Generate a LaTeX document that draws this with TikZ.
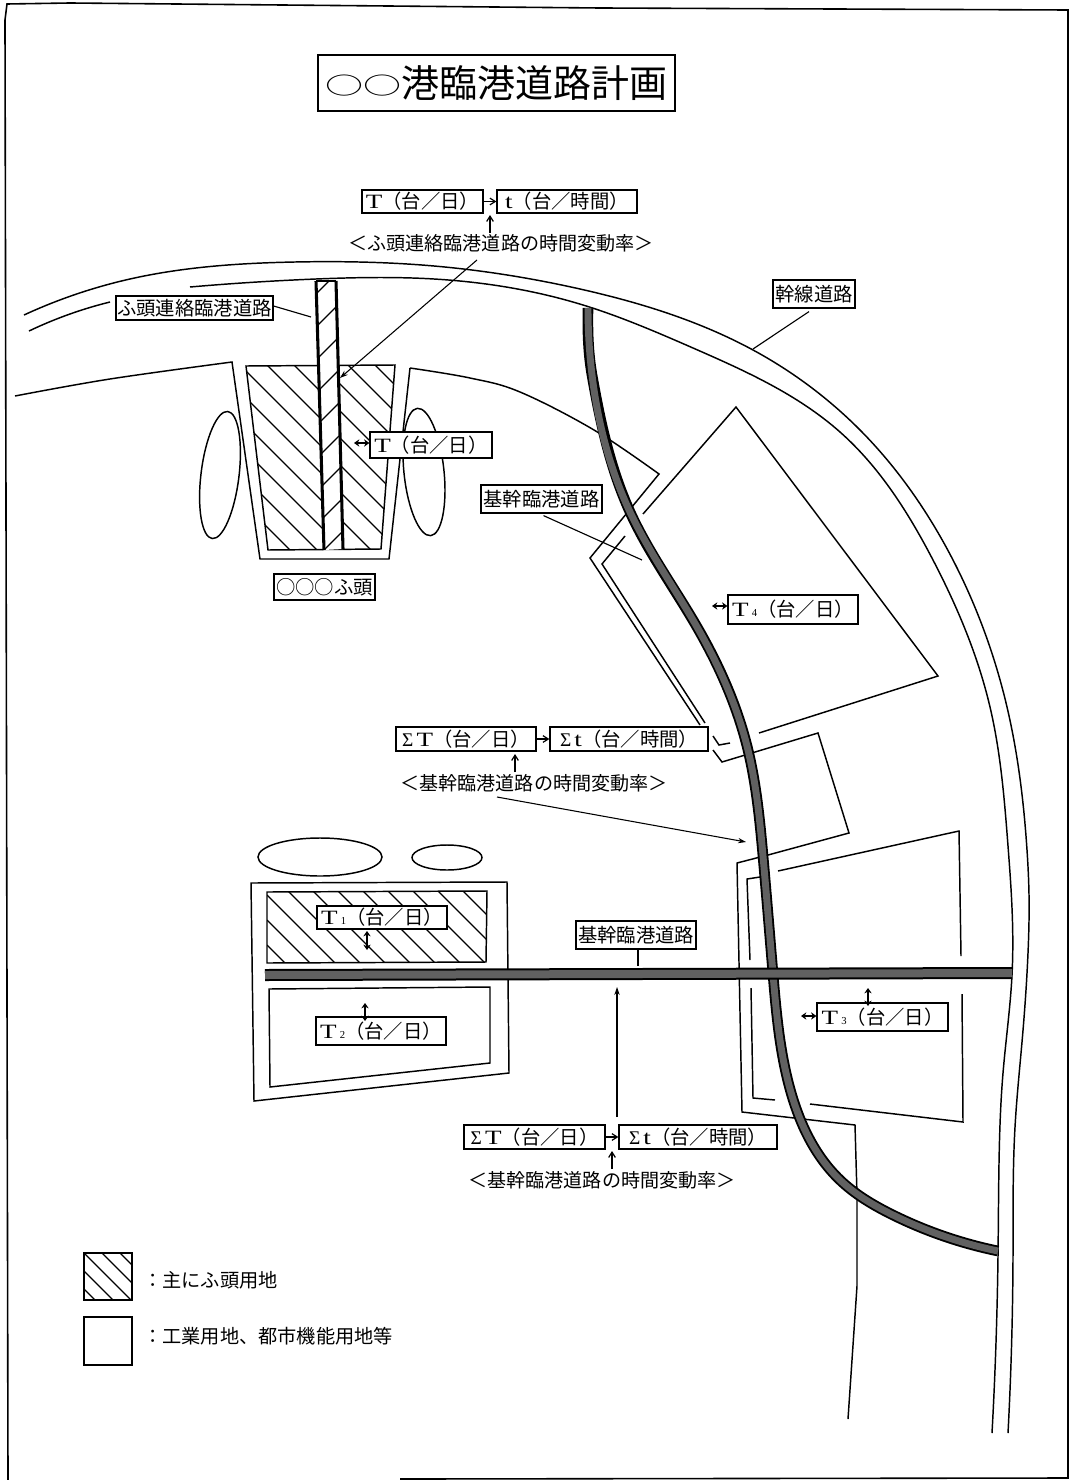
\documentclass[tikz,border=0pt]{standalone}
\usepackage{fontspec}
\setmainfont{Noto Sans CJK JP}
\newfontfamily\lat{Liberation Serif}
\usetikzlibrary{arrows.meta,hobby}
\tikzset{
  ln/.style={line width=1.1pt,line join=miter},
  thinln/.style={line width=0.85pt},
  lab/.style={draw=black,line width=0.9pt,fill=white,inner sep=0pt,font=\fontsize{14.5}{15}\selectfont,text=black},
  captxt/.style={inner sep=0pt,font=\fontsize{14.3}{16}\selectfont},
  arr/.style={line width=0.8pt,-{Stealth[length=6pt,width=4pt]}},
  arrs/.style={line width=0.9pt,-{Straight Barb[length=4pt,width=5pt]}},
  darr/.style={line width=1.3pt,{Stealth[length=4pt,width=5.5pt]}-{Stealth[length=4pt,width=5.5pt]}},
  roadedge/.style={line width=8pt,black,line cap=butt,use Hobby shortcut},
  roadcore/.style={line width=5.2pt,black!62,line cap=butt,use Hobby shortcut},
}
\newcommand{\bx}[7][]{\node[lab,#1,minimum width={(#5-#3)*0.75pt},minimum height={(#6-#4)*0.75pt}] (#2) at ({(#3+#5)/2},{(#4+#6)/2}) {#7};}
\newcommand{\tee}{\scalebox{1.4}[1.05]{\lat T}}
\newcommand{\ess}{\scalebox{1.4}[1.05]{\lat t}}
\newcommand{\sgm}{{\lat Σ}\,}
\newcommand{\dg}[1]{\,{\fontsize{8}{8}\selectfont\lat #1}}
\newcommand{\ovalch}{\raisebox{2.5pt}{\scalebox{1}[0.62]{○}}}
\newcommand{\roadpath}{(588,308) .. (592,375) .. (630,512) .. (697,627) .. (747,746) .. (763,856) .. (773,974) .. (790,1089) .. (840,1180) .. (893,1215) .. (998,1251)}
\begin{document}
\begin{tikzpicture}[x=0.75pt,y=-0.75pt]
\useasboundingbox (0,0) rectangle (1073,1480);
% page frame
\draw[line width=1.2pt] (8,1480) -- (5,20) -- (7,4) -- (70,3) -- (600,8) -- (1068,10) -- (1068,1478) -- (400,1479);
% trunk road
\draw[ln,use Hobby shortcut] (24,315) .. (130,279) .. (295,262) .. (434,266) .. (580,289) .. (753,350) .. (860,430) .. (953,560) .. (1007,707) .. (1027,850) .. (1029,895) .. (1028,953) .. (1022,1042) .. (1015,1127) .. (1013,1256) .. (1008,1433);
\draw[ln,use Hobby shortcut] (190,287) .. (316,279) .. (434,279) .. (583,305) .. (693,348) .. (840,432) .. (933,560) .. (990,707) .. (1008,846) .. (1012,908) .. (1012,975) .. (1003,1073) .. (999,1163) .. (998,1256) .. (992,1433);
\draw[ln,use Hobby shortcut] (29,331) .. (70,314) .. (110,302);
% coast left of pier and pier outline
\draw[ln] plot[smooth,tension=0.6] coordinates {(15,396) (110,379) (232,362)} -- (260,559) -- (389,559) -- (410,368);
\draw[ln] plot[smooth,tension=0.6] coordinates {(410,368) (470,378) (520,392) (594,430) (659,474)} -- (590,558) -- (700,725);
% ellipses beside pier
\draw[ln] (220,475) ellipse[x radius=19,y radius=64,rotate=-7];
\draw[ln] (424,472) ellipse[x radius=20,y radius=64,rotate=6];
% pier hatching
\begin{scope}
\clip (246,366) -- (395,365) -- (381,549) -- (268,550) -- cycle;
\foreach \c in {-10,17,...,300} \draw[thinln] (200,200+\c) -- (500,500+\c);
\end{scope}
\draw[ln] (268,550) -- (246,366) -- (395,365) -- (381,549) -- cycle;
% connecting road strip
\fill[white] (316,281) -- (336,281) -- (343,549) -- (324,550) -- cycle;
\begin{scope}
\clip (316,281) -- (336,281) -- (343,549) -- (324,550) -- cycle;
\foreach \c in {610,643,...,920} \draw[thinln] (250,\c-250) -- (400,\c-400);
\end{scope}
\draw[line width=2.3pt] (316,281) -- (324,550) (336,281) -- (343,549);
\draw[line width=1.2pt] (316,281) -- (336,281);
% upper-right zone
\draw[ln] (643,514) -- (736,407) -- (938,676) -- (759,733);
\draw[ln] (625,536) -- (602,564) -- (705,723);
\draw[ln] (713,736) -- (719,745) -- (730,743);
\draw[ln] (713,750) -- (722,762) -- (818,733) -- (849,833) -- (768,855) -- (737,863) -- (742,1112) -- (855,1125) -- (857,1195) -- (857,1286) -- (848,1419);
% lower-right zone
\draw[ln] (778,871) -- (959,831) -- (961,956);
\draw[ln] (962,994) -- (963,1122) -- (810,1104);
\draw[ln] (760,877) -- (747,879) -- (750,960);
\draw[ln] (751,988) -- (753,1098) -- (775,1100);
% left block
\draw[ln] (251,883) -- (507,882) -- (509,1073) -- (254,1101) -- cycle;
\begin{scope}
\clip (267,892) -- (487,891) -- (486,962) -- (267,963) -- cycle;
\foreach \c in {-30,-5,...,660} \draw[thinln] (267,\c+892-267) -- (487,\c+892-267+220);
\end{scope}
\draw[ln] (267,892) -- (487,891) -- (486,962) -- (267,963) -- cycle;
\draw[ln] (269,989) -- (490,987) -- (490,1063) -- (270,1087) -- cycle;
\draw[ln] (320,857) ellipse[x radius=62,y radius=19];
\draw[ln] (447,857.5) ellipse[x radius=35,y radius=12.5];
% main harbour roads
\draw[roadedge] (588,308) .. (592,375) .. (630,512) .. (697,627) .. (747,746) .. (763,856) .. (773,974) .. (790,1089) .. (840,1180) .. (893,1215) .. (998,1251);
\draw[roadcore] (588,308) .. (592,375) .. (630,512) .. (697,627) .. (747,746) .. (763,856) .. (773,974) .. (790,1089) .. (840,1180) .. (893,1215) .. (998,1251);
\draw[line width=9pt,black] (265,975) -- (1012,973);
\draw[line width=6pt,black!62] (265,975) -- (1012,973);
% title
\bx{title}{318}{55}{675}{111}{\fontsize{28.5}{29}\selectfont\ovalch\ovalch 港臨港道路計画}
% rate flow at top
\bx{a1}{362}{190}{483}{213}{\tee（台／日）}
\bx{a2}{497}{190}{637}{213}{\ess（台／時間）}
\node[captxt] (a3) at (501,243) {＜ふ頭連絡臨港道路の時間変動率＞};
\coordinate (a4) at (490,233);
\coordinate (a5) at (490,215);
\coordinate (a6) at (477,260);
\coordinate (a7) at (340,378);
\draw[arrs] (a1) -- (a2);
\draw[arrs] (a4) -- (a5);
\draw[arr] (a6) -- (a7);
% labels upper
\bx{b1}{116}{296}{273}{320}{ふ頭連絡臨港道路}
\coordinate (b2) at (311,317);
\draw[thinln] (b1.east) ++(0,-2) -- (b2);
\bx{b3}{773}{280}{855}{308}{幹線道路}
\coordinate (b4) at (753,349);
\draw[thinln] (b3.south) ++(-5,3) -- (b4);
\bx{b5}{481}{485}{602}{513}{基幹臨港道路}
\coordinate (b6) at (642,560);
\draw[thinln] (b5.south) ++(2,2) -- (b6);
\bx{b7}{274}{574}{375}{600}{○○○ふ頭}
\bx{c1}{370}{432}{492}{458}{\tee（台／日）}
\coordinate (c2) at (354,443);
\draw[darr] (c1.west |- c2) -- (c2);
\bx{c3}{728}{595}{858}{624}{\tee\dg{4}（台／日）}
\coordinate (c4) at (712,606);
\draw[darr] (c3.west |- c4) -- (c4);
% rate flow middle
\bx{d1}{396}{727}{536}{751}{\sgm\tee（台／日）}
\bx{d2}{550}{727}{708}{751}{\sgm\ess（台／時間）}
\node[captxt] (d3) at (534,783) {＜基幹臨港道路の時間変動率＞};
\coordinate (d4) at (515,772);
\coordinate (d5) at (515,754);
\coordinate (d6) at (497,797);
\coordinate (d7) at (746,842);
\draw[arrs] (d1) -- (d2);
\draw[arrs] (d4) -- (d5);
\draw[arr] (d6) -- (d7);
% block labels
\bx{e1}{317}{906}{447}{929}{\tee\dg{1}（台／日）}
\coordinate (e2) at (367,950);
\draw[darr] (367,931) -- (e2);
\bx{e3}{316}{1017}{446}{1045}{\tee\dg{2}（台／日）}
\coordinate (e4) at (365,1003);
\draw[darr] (365,1021) -- (e4);
\bx{e5}{576}{921}{696}{949}{基幹臨港道路}
\coordinate (e6) at (638,966);
\draw[thinln] (e5.south -| e6) -- (e6);
\bx{e7}{817}{1003}{948}{1031}{\tee\dg{3}（台／日）}
\coordinate (e8) at (801,1016);
\draw[darr] (e7.west |- e8) -- (e8);
\coordinate (e9) at (868,988);
\draw[darr] (868,1006) -- (e9);
% rate flow bottom
\bx{f1}{464}{1125}{605}{1149}{\sgm\tee（台／日）}
\bx{f2}{619}{1125}{777}{1149}{\sgm\ess（台／時間）}
\node[captxt] (f3) at (602,1180) {＜基幹臨港道路の時間変動率＞};
\coordinate (f4) at (612,1169);
\coordinate (f5) at (612,1151);
\coordinate (f6) at (617,1117);
\coordinate (f7) at (617,987);
\draw[arrs] (f1) -- (f2);
\draw[arrs] (f4) -- (f5);
\draw[arr] (f6) -- (f7);
% legend
\begin{scope}
\clip (84,1253) rectangle (132,1300);
\foreach \c in {-36,-18,...,36} \draw[thinln] (84,1253+\c) -- (132,1301+\c);
\end{scope}
\draw[ln] (84,1253) rectangle (132,1300);
\draw[ln] (84,1317) rectangle (132,1365);
\node[captxt,anchor=west,font=\fontsize{14.4}{15}\selectfont] (g1) at (143,1280) {：主にふ頭用地};
\node[captxt,anchor=west,font=\fontsize{14.4}{15}\selectfont] (g2) at (143,1336) {：工業用地、都市機能用地等};
\end{tikzpicture}
\end{document}
